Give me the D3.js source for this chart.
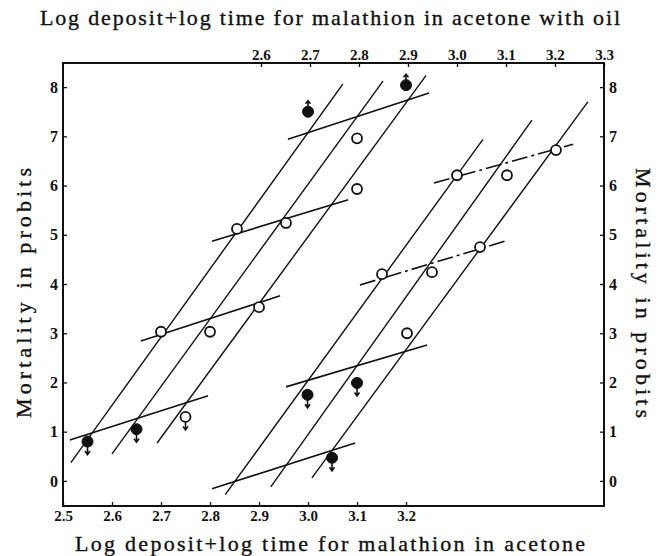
<!DOCTYPE html>
<html>
<head>
<meta charset="utf-8">
<script src="https://cdn.jsdelivr.net/npm/d3@7"></script>
<style>
  body { margin: 0; background: #fff; }
  text { font-family: "Liberation Serif", "Times New Roman", serif; fill: #111; }
</style>
</head>
<body>
<script>
// tick labels
const bottomTicks = [2.5, 2.6, 2.7, 2.8, 2.9, 3.0, 3.1, 3.2];
const topTicks = [2.6, 2.7, 2.8, 2.9, 3.0, 3.1, 3.2, 3.3];
const probitTicks = [0, 1, 2, 3, 4, 5, 6, 7, 8];

// malathion in acetone (read on the bottom axis)
// [log deposit + log time, probit, kind, arrow]
const acetonePoints = [
  [2.55, 0.80, "filled", "down"],
  [2.65, 1.05, "filled", "down"],
  [2.75, 1.30, "open", "down"],
  [2.70, 3.03, "open", ""],
  [2.80, 3.03, "open", ""],
  [2.90, 3.53, "open", ""],
  [2.855, 5.12, "open", ""],
  [2.955, 5.24, "open", ""],
  [3.10, 5.93, "open", ""],
  [3.10, 6.96, "open", ""],
  [3.00, 7.50, "filled", "up"],
  [3.20, 8.04, "filled", "up"]
];
// fitted regression lines [x1, y1, x2, y2]
const acetoneLines = [
  [2.516, 0.37, 3.071, 8.06],
  [2.600, 0.55, 3.153, 8.12],
  [2.692, 0.77, 3.241, 8.24]
];
const acetoneCross = [
  [2.514, 0.83, 2.796, 1.73],
  [2.659, 2.84, 2.943, 3.76],
  [2.804, 4.87, 3.082, 5.71],
  [2.959, 6.94, 3.247, 7.88]
];

// malathion in acetone with oil (read on the top axis)
const oilPoints = [
  [2.745, 0.47, "filled", "down"],
  [2.695, 1.75, "filled", "down"],
  [2.796, 1.99, "filled", "down"],
  [2.898, 3.00, "open", ""],
  [2.847, 4.20, "open", ""],
  [2.949, 4.24, "open", ""],
  [3.047, 4.75, "open", ""],
  [3.00, 6.21, "open", ""],
  [3.102, 6.21, "open", ""],
  [3.202, 6.72, "open", ""]
];
const oilLines = [
  [2.527, -0.28, 3.053, 6.94],
  [2.620, -0.12, 3.153, 7.33],
  [2.704, 0.06, 3.267, 7.70]
];
const oilCross = [
  [2.500, -0.16, 2.792, 0.77, ""],
  [2.651, 1.91, 2.939, 2.76, ""],
  [2.802, 3.98, 3.098, 4.87, "dash"],
  [2.953, 6.05, 3.237, 6.84, "dash"]
];

const W = 659, H = 556;
const box = {left: 63, right: 604, top: 63, bottom: 506};

const svg = d3.select("body").append("svg")
  .attr("width", W)
  .attr("height", H);

const xBottom = d3.scaleLinear().domain([2.5, 3.604]).range([box.left, box.right]);
const xTop = d3.scaleLinear().domain([2.196, 3.3]).range([box.left, box.right]);
const y = d3.scaleLinear().domain([-0.51, 8.49]).range([box.bottom, box.top]);

// axes
function styleAxis(g, size) {
  g.select(".domain").remove();
  g.selectAll(".tick line").attr("stroke", "#111").attr("stroke-width", 1.3);
  g.selectAll(".tick text")
    .attr("fill", "#111")
    .style("font-size", size + "px")
    .style("font-weight", "bold")
    .style("font-family", "'Liberation Serif', serif");
}

svg.append("g")
  .attr("transform", `translate(0,${box.bottom})`)
  .call(d3.axisBottom(xBottom).tickValues(bottomTicks).tickFormat(d3.format(".1f"))
    .tickSizeInner(-4).tickSizeOuter(0).tickPadding(4))
  .call(g => styleAxis(g, 15));

svg.append("g")
  .attr("transform", `translate(0,${box.top})`)
  .call(d3.axisTop(xTop).tickValues(topTicks).tickFormat(d3.format(".1f"))
    .tickSizeInner(-4).tickSizeOuter(0).tickPadding(3))
  .call(g => styleAxis(g, 15));

svg.append("g")
  .attr("transform", `translate(${box.left},0)`)
  .call(d3.axisLeft(y).tickValues(probitTicks).tickFormat(d3.format("d"))
    .tickSizeInner(-4).tickSizeOuter(0).tickPadding(5))
  .call(g => styleAxis(g, 16));

svg.append("g")
  .attr("transform", `translate(${box.right},0)`)
  .call(d3.axisRight(y).tickValues(probitTicks).tickFormat(d3.format("d"))
    .tickSizeInner(-4).tickSizeOuter(0).tickPadding(5))
  .call(g => styleAxis(g, 16));

// frame
svg.append("rect")
  .attr("x", box.left)
  .attr("y", box.top)
  .attr("width", box.right - box.left)
  .attr("height", box.bottom - box.top)
  .attr("fill", "none")
  .attr("stroke", "#111")
  .attr("stroke-width", 2);

// lines
function drawLines(lines, xs, width) {
  svg.append("g").selectAll("line")
    .data(lines)
    .join("line")
    .attr("x1", d => xs(d[0]))
    .attr("y1", d => y(d[1]))
    .attr("x2", d => xs(d[2]))
    .attr("y2", d => y(d[3]))
    .attr("stroke", "#111")
    .attr("stroke-width", width)
    .attr("stroke-dasharray", d => d[4] === "dash" ? "16,4,3,4" : null);
}

drawLines(acetoneLines, xBottom, 1.4);
drawLines(acetoneCross, xBottom, 1.6);
drawLines(oilLines, xTop, 1.4);
drawLines(oilCross, xTop, 1.6);

// points
function drawPoints(points, xs) {
  const g = svg.append("g");
  const r = 5;
  points.forEach(p => {
    const cx = xs(p[0]), cy = y(p[1]);
    if (p[3] === "down") {
      g.append("path")
        .attr("d", `M${cx},${cy + r} V${cy + r + 8} M${cx - 2.5},${cy + r + 4.5} L${cx},${cy + r + 8} L${cx + 2.5},${cy + r + 4.5}`)
        .attr("fill", "none")
        .attr("stroke", "#111")
        .attr("stroke-width", 1.6);
    } else if (p[3] === "up") {
      g.append("path")
        .attr("d", `M${cx},${cy - r} V${cy - r - 6} M${cx - 2.5},${cy - r - 3} L${cx},${cy - r - 6} L${cx + 2.5},${cy - r - 3}`)
        .attr("fill", "none")
        .attr("stroke", "#111")
        .attr("stroke-width", 1.6);
    }
    g.append("circle")
      .attr("cx", cx)
      .attr("cy", cy)
      .attr("r", p[2] === "filled" ? r + 0.5 : r)
      .attr("fill", p[2] === "filled" ? "#111" : "#fff")
      .attr("stroke", "#111")
      .attr("stroke-width", p[2] === "filled" ? 1 : 1.8);
  });
}

drawPoints(acetonePoints, xBottom);
drawPoints(oilPoints, xTop);

// titles
function title(t, transform, len) {
  svg.append("text")
    .attr("transform", transform)
    .attr("text-anchor", "middle")
    .attr("textLength", len)
    .attr("lengthAdjust", "spacing")
    .attr("stroke", "#111")
    .attr("stroke-width", 0.35)
    .style("font-size", "22px")
    .text(t);
}

title("Log deposit+log time for malathion in acetone with oil", "translate(330,25)", 580);
title("Log deposit+log time for malathion in acetone", "translate(330,551)", 510);
title("Mortality in probits", "translate(31,293) rotate(-90)", 250);
title("Mortality in probits", "translate(636,293) rotate(90)", 250);
</script>
</body>
</html>
